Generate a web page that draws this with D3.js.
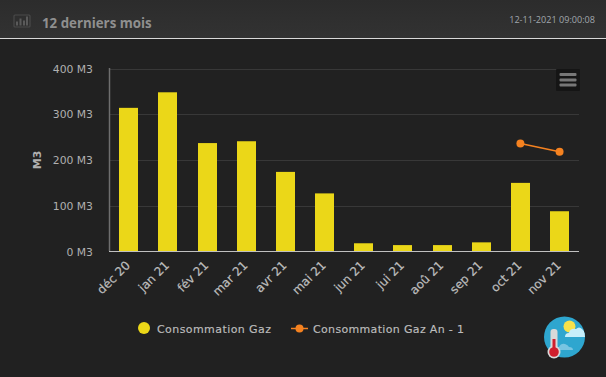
<!DOCTYPE html>
<html><head><meta charset="utf-8">
<script src="https://cdn.jsdelivr.net/npm/d3@7"></script>
<style>html,body{margin:0;padding:0;background:#212121;overflow:hidden}svg{display:block}</style>
</head><body><svg id="c" width="606" height="377"></svg>
<script>
const categories=["déc 20","jan 21","fév 21","mar 21","avr 21","mai 21","jun 21","jui 21","aoû 21","sep 21","oct 21","nov 21"];
const gasValues=[314,348,237,241,174,127,18,14,14,20,150,88];
const gasPrevValues=[null,null,null,null,null,null,null,null,null,null,236,218];
const yTicks=[0,100,200,300,400];
const legendLabels=["Consommation Gaz","Consommation Gaz An - 1"];
const title="12 derniers mois", stamp="12-11-2021 09:00:08", yTitle="M3";

const svg=d3.select("#c");
const font="'DejaVu Sans',sans-serif", ofont="'Open Sans',sans-serif";
const defs=svg.append("defs");
const g=defs.append("linearGradient").attr("id","hd").attr("x1",0).attr("x2",0).attr("y1",0).attr("y2",1);
g.append("stop").attr("offset",0).attr("stop-color","#2c2c2c");
g.append("stop").attr("offset",1).attr("stop-color","#323232");
const ig=defs.append("clipPath").attr("id","disc");
ig.append("circle").attr("cx",564.5).attr("cy",337).attr("r",20.5);

svg.append("rect").attr("width",606).attr("height",377).attr("fill","#212121");
svg.append("rect").attr("width",606).attr("height",38).attr("fill","url(#hd)");
svg.append("rect").attr("y",38).attr("width",606).attr("height",1).attr("fill","#d8d8d8");

// header icon
const hi=svg.append("g").attr("fill","none");
hi.append("rect").attr("x",14).attr("y",15).attr("width",16).attr("height",12).attr("rx",1).attr("stroke","#4a4a4a").attr("stroke-width",1.2);
[[17,4],[20.5,7],[24,5],[27,9]].forEach(d=>hi.append("rect").attr("x",d[0]-1).attr("y",25.5-d[1]).attr("width",2).attr("height",d[1]).attr("fill","#5a5a5a"));

svg.append("text").attr("x",42).attr("y",27.5).attr("font-family",ofont).attr("font-weight",700).attr("font-size",13.3).attr("fill","#8f8f8f").text(title);
svg.append("text").attr("x",595).attr("y",23).attr("text-anchor","end").attr("font-family",ofont).attr("font-size",9.1).attr("fill","#a0a6ac").text(stamp);

const x=d3.scaleBand().domain(categories).range([109.22,579.14]);
const y=d3.scaleLinear().domain([0,400]).range([251.5,68.5]);
const bw=19;

// grid
svg.append("g").selectAll("line").data(yTicks.slice(1)).join("line")
 .attr("x1",109).attr("x2",579).attr("y1",d=>Math.round(y(d))+.5).attr("y2",d=>Math.round(y(d))+.5)
 .attr("stroke","#383838");

// bars
svg.append("g").selectAll("rect").data(gasValues).join("rect")
 .attr("x",(d,i)=>Math.round(x(categories[i])+x.bandwidth()/2-bw/2)).attr("width",bw)
 .attr("y",d=>y(d)).attr("height",d=>y(0)-y(d)).attr("fill","#ebd718");

// axes
svg.append("line").attr("x1",109.5).attr("x2",109.5).attr("y1",68).attr("y2",251).attr("stroke","#6e6e6e").attr("stroke-width",1.5);
svg.append("line").attr("x1",109).attr("x2",579).attr("y1",251.5).attr("y2",251.5).attr("stroke","#c0c0c0");

svg.append("g").selectAll("text").data(yTicks).join("text")
 .attr("x",93).attr("y",d=>y(d)+4).attr("text-anchor","end").attr("font-family",font).attr("font-size",10.8).attr("fill","#b0b0b0").text(d=>d+" M3");
svg.append("text").attr("transform","translate(41,160) rotate(-90)").attr("text-anchor","middle").attr("font-family",font).attr("font-size",11).attr("font-weight",700).attr("fill","#b0b0b0").text(yTitle);

svg.append("g").selectAll("text").data(categories).join("text")
 .attr("transform",d=>`translate(${x(d)+x.bandwidth()/2+2},266) rotate(-45)`)
 .attr("text-anchor","end").attr("font-family",font).attr("font-size",12).attr("fill","#bdbdbd").attr("stroke","#bdbdbd").attr("stroke-width",.2).text(d=>d);

// line series
const line=d3.line().defined(d=>d!=null).x((d,i)=>x(categories[i])+x.bandwidth()/2).y(d=>y(d));
svg.append("path").datum(gasPrevValues).attr("d",line).attr("fill","none").attr("stroke","#f58220").attr("stroke-width",1.5);
svg.append("g").selectAll("circle").data(gasPrevValues.map((v,i)=>({v,i})).filter(d=>d.v!=null)).join("circle")
 .attr("cx",d=>x(categories[d.i])+x.bandwidth()/2).attr("cy",d=>y(d.v)).attr("r",4).attr("fill","#f58220");

// menu button
svg.append("rect").attr("x",556).attr("y",69).attr("width",24).attr("height",22).attr("rx",1).attr("fill","#151515");
[74.5,80,85].forEach(v=>svg.append("rect").attr("x",559.5).attr("y",v-1.5).attr("width",17).attr("height",3).attr("rx",1).attr("fill","#777"));

// legend
svg.append("circle").attr("cx",144).attr("cy",328).attr("r",6).attr("fill","#ebd718");
svg.append("text").attr("x",157).attr("y",333).attr("font-family",font).attr("font-size",11).attr("fill","#bdbdbd").attr("stroke","#bdbdbd").attr("stroke-width",.15).attr("textLength",114).text(legendLabels[0]);
svg.append("line").attr("x1",291).attr("x2",308).attr("y1",328.5).attr("y2",328.5).attr("stroke","#f58220").attr("stroke-width",1.5);
svg.append("circle").attr("cx",299.5).attr("cy",328.5).attr("r",4).attr("fill","#f58220");
svg.append("text").attr("x",313).attr("y",333).attr("font-family",font).attr("font-size",11).attr("fill","#bdbdbd").attr("stroke","#bdbdbd").attr("stroke-width",.15).attr("textLength",151).text(legendLabels[1]);

// weather badge
const b=svg.append("g");
b.append("circle").attr("cx",564.5).attr("cy",337).attr("r",20.5).attr("fill","#2ea6cf");
const c=b.append("g").attr("clip-path","url(#disc)");
c.append("circle").attr("cx",569.5).attr("cy",326.5).attr("r",6).attr("fill","#f7e24a");
c.append("path").attr("d","M565 337q0-4 4-4q1-5 7-4q3-3 6 0q3 2 4 8z").attr("fill","#c7eefa");
c.append("path").attr("d","M556 350q0-3 3-3q2-4 6-3q3 1 4 3q4 0 4 3z").attr("fill","#78c5e2");
b.append("rect").attr("x",550.5).attr("y",329).attr("width",7).attr("height",24).attr("rx",3).attr("fill","#d9d9d9");
b.append("circle").attr("cx",554).attr("cy",352).attr("r",6.5).attr("fill","#d9d9d9");
b.append("rect").attr("x",552.5).attr("y",339).attr("width",3).attr("height",12).attr("fill","#d01f2e");
b.append("circle").attr("cx",554).attr("cy",352).attr("r",4.8).attr("fill","#d01f2e");
</script></body></html>
